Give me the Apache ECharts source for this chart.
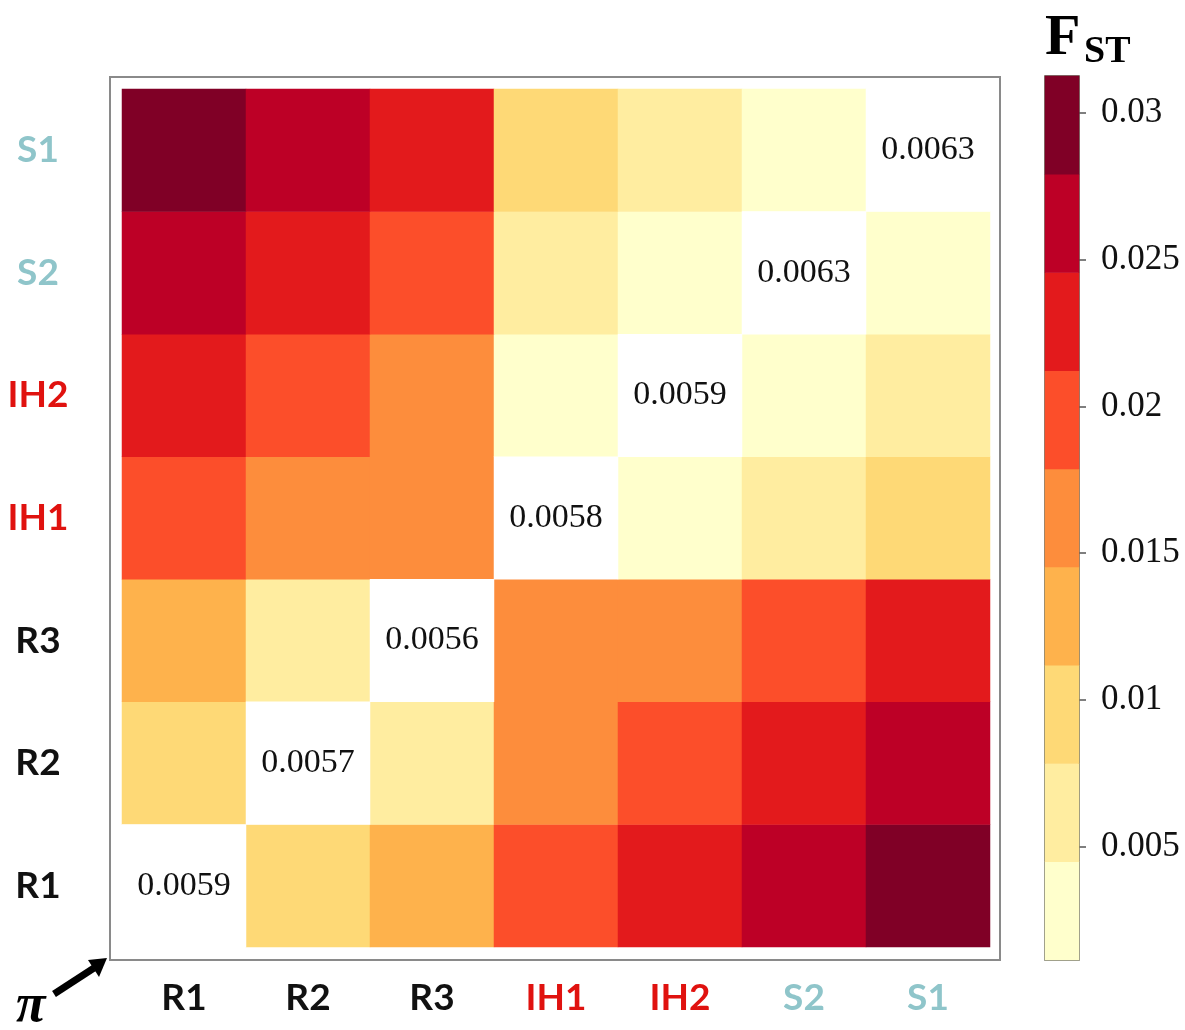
<!DOCTYPE html>
<html>
<head>
<meta charset="utf-8">
<title>Pairwise FST and nucleotide diversity</title>
<script src="https://cdn.jsdelivr.net/npm/echarts@6/dist/echarts.min.js"></script>
<style>
  html, body { margin: 0; padding: 0; background: #ffffff; }
  #chart { width: 1185px; height: 1030px; }
</style>
</head>
<body>
<div id="chart"></div>
<script>
// Populations, in axis order (x: left to right, y: bottom to top)
const populations = ['R1', 'R2', 'R3', 'IH1', 'IH2', 'S2', 'S1'];
const populationGroup = ['r', 'r', 'r', 'ih', 'ih', 's', 's'];

// Pairwise FST, one row per population, columns in the same order (diagonal unused)
const fstR1  = [null,   0.0097, 0.0130, 0.0195, 0.0230, 0.0265, 0.0300];
const fstR2  = [0.0097, null,   0.0068, 0.0165, 0.0192, 0.0232, 0.0268];
const fstR3  = [0.0130, 0.0068, null,   0.0160, 0.0163, 0.0200, 0.0228];
const fstIH1 = [0.0195, 0.0165, 0.0160, null,   0.0035, 0.0062, 0.0095];
const fstIH2 = [0.0230, 0.0192, 0.0163, 0.0035, null,   0.0040, 0.0058];
const fstS2  = [0.0265, 0.0232, 0.0200, 0.0062, 0.0040, null,   0.0030];
const fstS1  = [0.0300, 0.0268, 0.0228, 0.0095, 0.0058, 0.0030, null];

// Nucleotide diversity (pi) within each population, shown on the diagonal
const piValues = [0.0059, 0.0057, 0.0056, 0.0058, 0.0059, 0.0063, 0.0063];

// Colour scale
const fstScaleMin = 0.00115;
const fstScaleMax = 0.03125;
const fstScaleTicks = [0.005, 0.01, 0.015, 0.02, 0.025, 0.03];
const fstColors = ['#ffffcc', '#ffeda0', '#fed976', '#feb24c', '#fd8d3c',
                   '#fc4e2a', '#e31a1c', '#bd0026', '#800026'];

const fstRows = [fstR1, fstR2, fstR3, fstIH1, fstIH2, fstS2, fstS1];

// heatmap cells: [column, row, value]
const fstCells = [];
fstRows.forEach((row, yi) => {
  row.forEach((v, xi) => {
    if (xi !== yi && v != null) fstCells.push([xi, yi, v]);
  });
});
const piCells = piValues.map((v, i) => [i, i, v]);

// discrete bins of the colour scale
const binCount = fstColors.length;
const binWidth = (fstScaleMax - fstScaleMin) / binCount;
const pieces = fstColors.map((c, k) => {
  const p = { gte: fstScaleMin + k * binWidth, color: c };
  if (k < binCount - 1) p.lt = fstScaleMin + (k + 1) * binWidth;
  else p.lte = fstScaleMax;
  return p;
});
const binNames = fstColors.map((c, k) => 'b' + k);
const colorbarCells = fstColors.map((c, k) => [0, k, fstScaleMin + (k + 0.5) * binWidth]);

const labelFont = 'Lato, "Open Sans", sans-serif';
const serifFont = '"Liberation Serif", "Times New Roman", serif';
const rich = {
  r:  { color: '#111111', fontWeight: 'bold', fontSize: 37, fontFamily: labelFont },
  ih: { color: '#e0120f', fontWeight: 'bold', fontSize: 37, fontFamily: labelFont },
  s:  { color: '#8fc5ca', fontWeight: 'bold', fontSize: 37, fontFamily: labelFont }
};
const groupLabel = (v, idx) => '{' + populationGroup[idx] + '|' + v + '}';

const tickStyle = { color: '#333333', width: 1.5 };

const chart = echarts.init(document.getElementById('chart'), null, { renderer: 'canvas' });

chart.setOption({
  backgroundColor: '#ffffff',
  animation: false,
  grid: [
    // cells
    { left: 122, top: 89, width: 868, height: 858 },
    // frame
    { left: 110, top: 77, width: 890, height: 883, show: true,
      borderColor: '#8a8a8a', borderWidth: 2, backgroundColor: 'transparent' },
    // colour bar
    { left: 1045, top: 76, width: 34, height: 884, show: true,
      borderColor: '#5a5a4a', borderWidth: 1.5, backgroundColor: 'transparent' }
  ],
  xAxis: [
    { type: 'category', gridIndex: 0, data: populations, position: 'bottom', offset: 13,
      axisLine: { show: false }, splitLine: { show: false },
      axisTick: { alignWithLabel: true, length: 8, lineStyle: tickStyle },
      axisLabel: { formatter: groupLabel, rich: rich, margin: 20 } },
    { type: 'category', gridIndex: 0, data: populations, position: 'top', offset: 12,
      axisLine: { show: false }, splitLine: { show: false },
      axisTick: { alignWithLabel: true, length: 10, lineStyle: tickStyle },
      axisLabel: { show: false } },
    { type: 'value', gridIndex: 1, show: false },
    { type: 'category', gridIndex: 2, data: ['bar'], show: false }
  ],
  yAxis: [
    { type: 'category', gridIndex: 0, data: populations, position: 'left', offset: 12,
      axisLine: { show: false }, splitLine: { show: false },
      axisTick: { alignWithLabel: true, length: 12, lineStyle: tickStyle },
      axisLabel: { formatter: groupLabel, rich: rich, margin: 72, align: 'center' } },
    { type: 'category', gridIndex: 0, data: populations, position: 'right', offset: 10,
      axisLine: { show: false }, splitLine: { show: false },
      axisTick: { alignWithLabel: true, length: 10, lineStyle: tickStyle },
      axisLabel: { show: false } },
    { type: 'value', gridIndex: 1, show: false },
    { type: 'category', gridIndex: 2, data: binNames, show: false },
    { type: 'value', gridIndex: 2, position: 'right', min: fstScaleMin, max: fstScaleMax,
      axisLine: { show: false }, splitLine: { show: false },
      axisTick: { show: true, customValues: fstScaleTicks, length: 7,
                  lineStyle: { color: '#555555', width: 1.5 } },
      axisLabel: { show: true, customValues: fstScaleTicks, margin: 22,
                   formatter: v => String(+v.toFixed(3)),
                   fontFamily: serifFont, fontSize: 35, color: '#111111' } }
  ],
  visualMap: {
    type: 'piecewise',
    show: false,
    seriesIndex: [0, 2],
    dimension: 2,
    pieces: pieces
  },
  series: [
    { type: 'heatmap', name: 'FST', xAxisIndex: 0, yAxisIndex: 0, data: fstCells,
      emphasis: { disabled: true } },
    { type: 'heatmap', name: 'pi', xAxisIndex: 0, yAxisIndex: 0, data: piCells,
      itemStyle: { color: '#ffffff' },
      label: { show: true, formatter: p => p.value[2].toFixed(4),
               fontFamily: serifFont, fontSize: 34, color: '#111111' },
      emphasis: { disabled: true } },
    { type: 'heatmap', name: 'scale', xAxisIndex: 3, yAxisIndex: 3, data: colorbarCells,
      emphasis: { disabled: true } }
  ],
  graphic: [
    { type: 'text', left: 1045, top: 10,
      style: { text: 'F', fontFamily: serifFont,
               fontWeight: 'bold', fontSize: 58, fill: '#000000' } },
    { type: 'text', left: 1084, top: 33,
      style: { text: 'ST', fontFamily: serifFont,
               fontWeight: 'bold', fontSize: 38, fill: '#000000' } },
    { type: 'text', left: 16, top: 980,
      style: { text: 'π', fontFamily: serifFont,
               fontWeight: 'bold', fontStyle: 'italic', fontSize: 54, fill: '#000000' } },
    { type: 'line',
      shape: { x1: 54, y1: 994, x2: 94, y2: 968 },
      style: { stroke: '#000000', lineWidth: 7 } },
    { type: 'polygon',
      shape: { points: [[107, 958], [99, 977], [88, 960]] },
      style: { fill: '#000000' } }
  ]
});
</script>
</body>
</html>
